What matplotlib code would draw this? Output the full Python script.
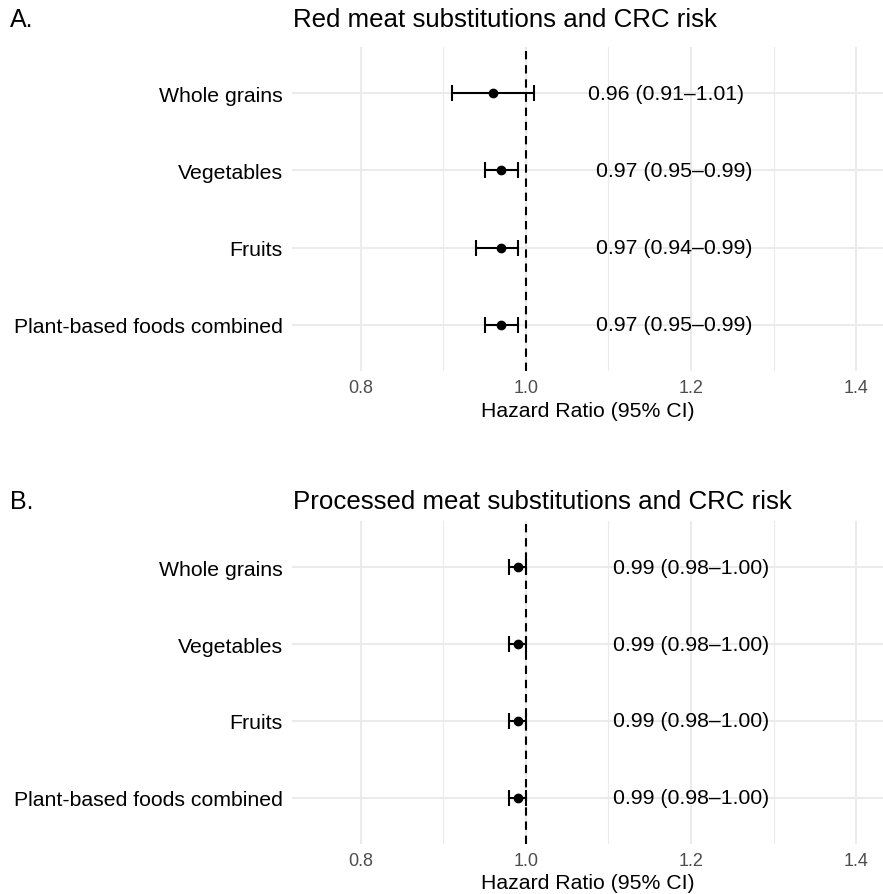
import matplotlib
matplotlib.use("Agg")
import matplotlib.pyplot as plt
from matplotlib.ticker import MultipleLocator

# data
foods = ["Whole grains", "Vegetables", "Fruits", "Plant-based foods combined"]

red_hr = [0.96, 0.97, 0.97, 0.97]
red_lo = [0.91, 0.95, 0.94, 0.95]
red_hi = [1.01, 0.99, 0.99, 0.99]

proc_hr = [0.99, 0.99, 0.99, 0.99]
proc_lo = [0.98, 0.98, 0.98, 0.98]
proc_hi = [1.00, 1.00, 1.00, 1.00]

panels = [
    ("A.", "Red meat substitutions and CRC risk", red_hr, red_lo, red_hi),
    ("B.", "Processed meat substitutions and CRC risk", proc_hr, proc_lo, proc_hi),
]

plt.rcParams["font.family"] = ["Liberation Sans", "DejaVu Sans"]

W, H = 883, 895
fig = plt.figure(figsize=(W / 100, H / 100), dpi=100)

# axes boxes in pixels: (left, top, right, bottom)
boxes = [(292, 48, 883, 372), (292, 522, 883, 845)]
title_y = [20, 502]


def draw_panel(ax, hr, lo, hi):
    ypos = list(range(len(foods)))
    ax.set_xlim(0.7164, 1.4327)
    ax.set_ylim(len(foods) - 0.4, -0.6)

    ax.xaxis.set_major_locator(MultipleLocator(0.2))
    ax.xaxis.set_minor_locator(MultipleLocator(0.1))
    ax.grid(which="major", axis="both", color="#EBEBEB", linewidth=1.5, zorder=0)
    ax.grid(which="minor", axis="x", color="#EBEBEB", linewidth=0.8, zorder=0)
    ax.set_axisbelow(True)

    xerr = [[h - l for h, l in zip(hr, lo)], [u - h for h, u in zip(hr, hi)]]
    ax.errorbar(hr, ypos, xerr=xerr, fmt="o", color="black", ecolor="black",
                markersize=6, elinewidth=1.5, capsize=5.5, capthick=1.5, zorder=3)
    ax.axvline(1.0, color="black", linewidth=1.5, dashes=(4, 2.8), zorder=2)

    for y, h, l, u in zip(ypos, hr, lo, hi):
        ax.text(h + 0.21, y, f"{h:.2f} ({l:.2f}\u2013{u:.2f})", ha="center",
                va="center", fontsize=15.3, color="black")

    ax.set_yticks(ypos)
    ax.set_yticklabels(foods, fontsize=15.3, color="black")
    ax.set_xticks([0.8, 1.0, 1.2, 1.4])
    ax.set_xticklabels(["0.8", "1.0", "1.2", "1.4"], fontsize=13, color="#4D4D4D")
    ax.tick_params(which="both", length=0)
    ax.tick_params(axis="y", pad=6.5)
    ax.tick_params(axis="x", pad=6)
    ax.set_xlabel("Hazard Ratio (95% CI)", fontsize=15.3, labelpad=3)
    for s in ax.spines.values():
        s.set_visible(False)


for (tag, title, hr, lo, hi), (l, t, r, b), ty in zip(panels, boxes, title_y):
    ax = fig.add_axes([l / W, 1 - b / H, (r - l) / W, (b - t) / H])
    draw_panel(ax, hr, lo, hi)
    fig.text(10 / W, 1 - ty / H, tag, fontsize=18, ha="left", va="center")
    fig.text(293 / W, 1 - ty / H, title, fontsize=18.6, ha="left", va="center")

fig.savefig("out.png", dpi=100, facecolor="white")
